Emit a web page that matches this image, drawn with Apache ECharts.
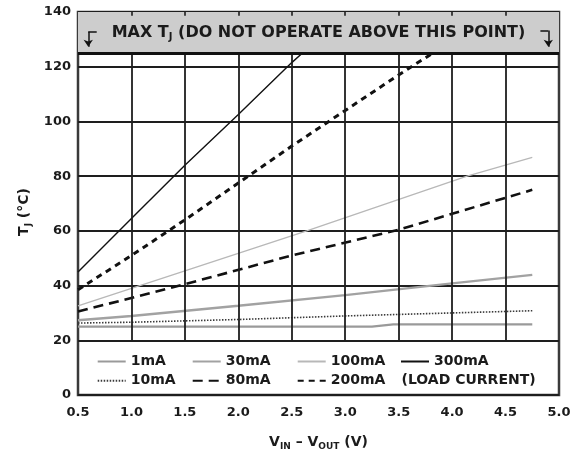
<!DOCTYPE html>
<html>
<head>
<meta charset="utf-8">
<script src="https://cdn.jsdelivr.net/npm/echarts@6/dist/echarts.min.js"></script>
<style>
html, body { margin: 0; padding: 0; background: #fff; }
#tjChart { width: 577px; height: 457px; }
</style>
</head>
<body>
<div id="tjChart"></div>
<script>
// T_J vs (V_IN - V_OUT), one [volts, degC] list per load current
const xTicks = [0.5, 1.0, 1.5, 2.0, 2.5, 3.0, 3.5, 4.0, 4.5, 5.0];
const yTicks = [0, 20, 40, 60, 80, 100, 120, 140];
const maxTj = 125;      // bottom of the grey band
const legendFloor = 20; // grid stops here, legend lives below

const load1mA = [[0.5, 25.0], [3.25, 25.0], [3.45, 25.8], [4.75, 25.8]];
const load10mA = [[0.5, 26.3], [1.0, 26.6], [2.0, 27.6], [3.0, 28.9], [4.0, 30.0], [4.75, 30.8]];
const load30mA = [[0.5, 27.3], [1.0, 28.9], [2.0, 32.6], [3.0, 36.5], [4.0, 40.8], [4.75, 43.9]];
const load80mA = [[0.5, 30.5], [1.5, 40.5], [2.5, 51.0], [3.5, 60.4], [4.75, 75.0]];
const load100mA = [[0.5, 32.6], [1.5, 45.4], [2.64, 60.0], [4.14, 80.0], [4.75, 86.9]];
const load200mA = [[0.5, 38.5], [1.0, 51.0], [1.5, 64.0], [2.0, 77.5], [2.5, 91.0], [3.0, 104.0], [3.5, 117.0], [3.82, 125.0]];
const load300mA = [[0.5, 45.0], [1.0, 64.5], [1.5, 84.0], [2.0, 102.5], [2.5, 121.5], [2.6, 125.0]];

const ink = '#1b1b1b';
const font = 'DejaVu Sans';

function curve(name, data, color, width, type) {
  return {
    name: name,
    type: 'line',
    data: data,
    symbol: 'none',
    z: 3,
    lineStyle: { color: color, width: width, type: type },
    itemStyle: { color: color }
  };
}

// inner vertical grid lines, from the legend area up to the band
const vLines = xTicks.slice(1, -1).map(function (x) {
  return [{ coord: [x, legendFloor] }, { coord: [x, maxTj] }];
});
// short stubs at top of band
const topStubs = xTicks.slice(1, -1).map(function (x) {
  return [{ coord: [x, 138.6] }, { coord: [x, 140] }];
});
const arrows = [
  [{ coord: [0.675, 132.8] }, { coord: [0.596, 132.8] }],
  [{ coord: [0.596, 132.8], symbol: 'none' }, { coord: [0.596, 127.3], symbol: 'arrow' }],
  [{ coord: [4.826, 133.2] }, { coord: [4.9, 133.2] }],
  [{ coord: [4.9, 133.2], symbol: 'none' }, { coord: [4.9, 127.3], symbol: 'arrow' }]
];

const legendBase = {
  orient: 'vertical',
  top: 354.5,
  padding: 0,
  itemWidth: 28,
  itemHeight: 14,
  itemGap: 5.3,
  selectedMode: false,
  itemStyle: { opacity: 0 },
  textStyle: { fontFamily: font, fontWeight: 'bold', fontSize: 14, color: ink, lineHeight: 14 }
};

const option = {
  animation: false,
  backgroundColor: '#fff',
  grid: { left: 78, right: 18, top: 12, bottom: 62, show: true, borderColor: '#3a3a3a', borderWidth: 2.5 },
  legend: [
    Object.assign({ left: 96.7, data: ['1mA', '10mA'] }, legendBase),
    Object.assign({ left: 191.7, data: ['30mA', '80mA'] }, legendBase),
    Object.assign({ left: 296.7, data: ['100mA', '200mA'] }, legendBase),
    Object.assign({ left: 400, data: ['300mA'] }, legendBase)
  ],
  xAxis: {
    type: 'value',
    min: xTicks[0],
    max: xTicks[xTicks.length - 1],
    interval: 0.5,
    axisLine: { show: false },
    axisTick: { show: false },
    splitLine: { show: false },
    axisLabel: {
      margin: 11,
      fontFamily: font, fontWeight: 'bold', fontSize: 13, color: ink,
      formatter: function (v) { return v.toFixed(1); }
    },
    name: '{a|V}{s|IN}{a| – V}{s|OUT}{a| (V)}',
    nameLocation: 'middle',
    nameGap: 38,
    nameTextStyle: {
      rich: {
        a: { fontFamily: font, fontWeight: 'bold', fontSize: 14, color: ink, lineHeight: 18 },
        s: { fontFamily: font, fontWeight: 'bold', fontSize: 9, color: ink, lineHeight: 10, verticalAlign: 'bottom' }
      }
    }
  },
  yAxis: {
    type: 'value',
    min: yTicks[0],
    max: yTicks[yTicks.length - 1],
    interval: 20,
    axisLine: { show: false },
    axisTick: { show: false },
    splitLine: { lineStyle: { color: '#1e1e1e', width: 1.8 } },
    axisLabel: { margin: 7, fontFamily: font, fontWeight: 'bold', fontSize: 13, color: ink }
  },
  graphic: [
    {
      type: 'text',
      x: 24, y: 212,
      rotation: Math.PI / 2,
      style: {
        text: '{a|T}{s|J}{a| (°C)}',
        align: 'center',
        verticalAlign: 'middle',
        rich: {
          a: { fontFamily: font, fontWeight: 'bold', fontSize: 14, fill: ink, lineHeight: 18 },
          s: { fontFamily: font, fontWeight: 'bold', fontSize: 9, fill: ink, lineHeight: 10, verticalAlign: 'bottom' }
        }
      }
    },
    {
      type: 'text',
      left: 401.5, top: 373.5,
      style: { text: '(LOAD CURRENT)', fontFamily: font, fontWeight: 'bold', fontSize: 14, fill: ink }
    }
  ],
  series: [
    {
      type: 'line',
      data: [],
      z: 1,
      markLine: {
        silent: true,
        symbol: 'none',
        label: { show: false },
        lineStyle: { color: '#1e1e1e', width: 1.8, type: 'solid' },
        data: vLines
      }
    },
    curve('1mA', load1mA, '#9a9a9a', 2.4, 'solid'),
    curve('10mA', load10mA, '#3a3a3a', 1.6, [1.5, 1.5]),
    curve('30mA', load30mA, '#a2a2a2', 2.4, 'solid'),
    curve('80mA', load80mA, '#111', 2.6, [10, 6]),
    curve('100mA', load100mA, '#b8b8b8', 1.3, 'solid'),
    curve('200mA', load200mA, '#111', 3, [6, 5]),
    curve('300mA', load300mA, '#111', 1.4, 'solid'),
    {
      type: 'line',
      data: [],
      z: 5,
      markArea: {
        silent: true,
        itemStyle: { color: '#cdcdcd' },
        label: {
          show: true,
          position: 'inside',
          formatter: '{a|MAX T}{s|J}{a| (DO NOT OPERATE ABOVE THIS POINT)}',
          rich: {
            a: { fontFamily: font, fontWeight: 'bold', fontSize: 16, color: ink, lineHeight: 20 },
            s: { fontFamily: font, fontWeight: 'bold', fontSize: 10, color: ink, lineHeight: 12, verticalAlign: 'bottom' }
          }
        },
        data: [[{ coord: [xTicks[0], maxTj] }, { coord: [xTicks[xTicks.length - 1], yTicks[yTicks.length - 1]] }]]
      }
    },
    {
      type: 'line',
      data: [],
      z: 6,
      markLine: {
        silent: true,
        symbol: 'none',
        symbolSize: 7,
        label: { show: false },
        lineStyle: { color: '#111', width: 1.5, type: 'solid' },
        data: [{ yAxis: maxTj, lineStyle: { width: 3.2, color: '#111' } }].concat(topStubs, arrows)
      }
    }
  ]
};

const myChart = echarts.init(document.getElementById('tjChart'));
myChart.setOption(option);
</script>
</body>
</html>
